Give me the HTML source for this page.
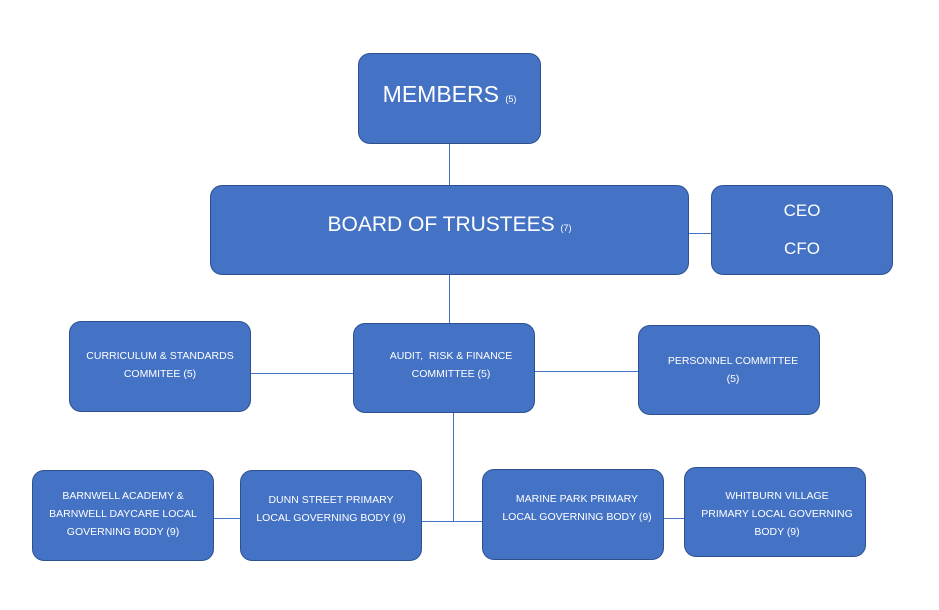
<!DOCTYPE html>
<html><head><meta charset="utf-8"><style>
body{margin:0;width:939px;height:610px;background:#fff;position:relative;overflow:hidden;font-family:"Liberation Sans",sans-serif;}
.b{position:absolute;background:#4472C4;border:1.3px solid #2F528F;border-radius:12px;box-sizing:border-box;}
.t{position:absolute;color:#fff;text-align:center;font-size:10.5px;line-height:18px;white-space:nowrap;}
.l{position:absolute;background:#4472C4;}
.s{font-size:9px;}
</style></head><body>
<div class="l" style="left:449px;top:144px;width:1px;height:41px"></div>
<div class="l" style="left:449px;top:275px;width:1px;height:48px"></div>
<div class="l" style="left:251px;top:373px;width:102px;height:1px"></div>
<div class="l" style="left:535px;top:371px;width:103px;height:1px"></div>
<div class="l" style="left:689px;top:233px;width:22px;height:1px"></div>
<div class="l" style="left:453px;top:413px;width:1px;height:108px"></div>
<div class="l" style="left:422px;top:521px;width:60px;height:1px"></div>
<div class="l" style="left:214px;top:518px;width:26px;height:1px"></div>
<div class="l" style="left:664px;top:518px;width:20px;height:1px"></div>

<div class="b" style="left:358px;top:53px;width:183px;height:91px"></div>
<div class="t" style="left:358px;top:80px;width:183px;font-size:23px;line-height:28px">MEMBERS <span class="s">(5)</span></div>

<div class="b" style="left:210px;top:185px;width:479px;height:90px"></div>
<div class="t" style="left:210px;top:211px;width:479px;font-size:21px;line-height:28px">BOARD OF TRUSTEES <span class="s">(7)</span></div>

<div class="b" style="left:711px;top:185px;width:182px;height:90px"></div>
<div class="t" style="left:711px;top:192px;width:182px;font-size:17px;line-height:38px">CEO<br>CFO</div>

<div class="b" style="left:69px;top:321px;width:182px;height:91px"></div>
<div class="t" style="left:69px;top:347px;width:182px">CURRICULUM &amp; STANDARDS<br>COMMITEE (5)</div>

<div class="b" style="left:353px;top:323px;width:182px;height:90px"></div>
<div class="t" style="left:353px;top:347px;width:196px">AUDIT,&nbsp; RISK &amp; FINANCE<br>COMMITTEE (5)</div>

<div class="b" style="left:638px;top:325px;width:182px;height:90px"></div>
<div class="t" style="left:638px;top:352px;width:190px">PERSONNEL COMMITTEE<br>(5)</div>

<div class="b" style="left:32px;top:470px;width:182px;height:91px"></div>
<div class="t" style="left:32px;top:487px;width:182px">BARNWELL ACADEMY &amp;<br>BARNWELL DAYCARE LOCAL<br>GOVERNING BODY (9)</div>

<div class="b" style="left:240px;top:470px;width:182px;height:91px"></div>
<div class="t" style="left:240px;top:491px;width:182px">DUNN STREET PRIMARY<br>LOCAL GOVERNING BODY (9)</div>

<div class="b" style="left:482px;top:469px;width:182px;height:91px"></div>
<div class="t" style="left:482px;top:490px;width:190px">MARINE PARK PRIMARY<br>LOCAL GOVERNING BODY (9)</div>

<div class="b" style="left:684px;top:467px;width:182px;height:90px"></div>
<div class="t" style="left:684px;top:487px;width:186px">WHITBURN VILLAGE<br>PRIMARY LOCAL GOVERNING<br>BODY (9)</div>
</body></html>
